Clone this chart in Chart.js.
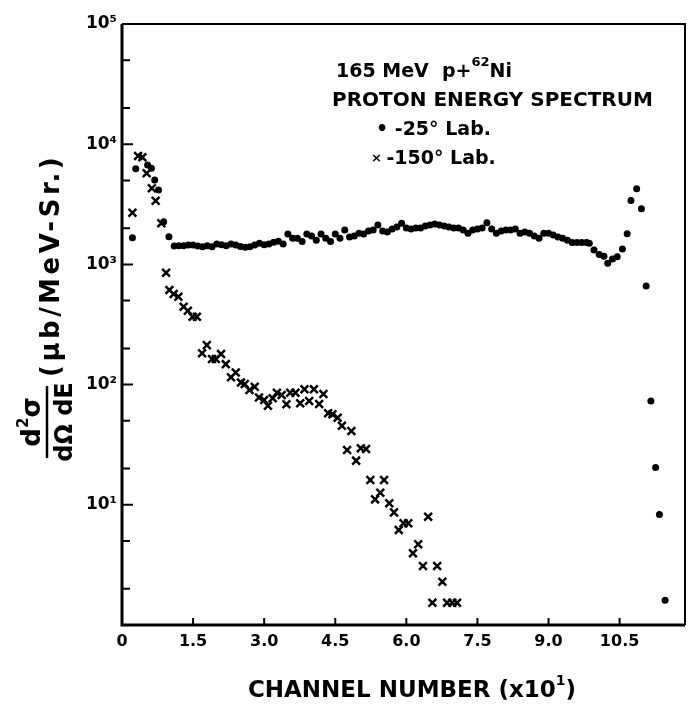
<!DOCTYPE html>
<html>
<head>
<meta charset="utf-8">
<script src="https://cdn.jsdelivr.net/npm/chart.js@4.4.0/dist/chart.umd.min.js"></script>
<style>
  html, body { margin: 0; padding: 0; background: #fff; }
  #wrap { width: 693px; height: 713px; }
</style>
</head>
<body>
<div id="wrap"><canvas id="spectre" width="693" height="713"></canvas></div>
<script>
// 165 MeV p + 62Ni : spectre en énergie des protons (25° et 150° lab.)
const xTicks = [0, 1.5, 3.0, 4.5, 6.0, 7.5, 9.0, 10.5];
const yTicks = [1, 10, 100, 1000, 10000, 100000];
const yMinorTicks = [2, 5, 20, 50, 200, 500, 2000, 5000, 20000, 50000];
const yTickLabels = { 10: '10¹', 100: '10²', 1000: '10³', 10000: '10⁴', 100000: '10⁵' };

// -25° Lab. (points)
const x25 = [
  0.22, 0.29, 0.54, 0.62, 0.69, 0.77, 0.88, 0.99,
  1.1, 1.2, 1.3, 1.4, 1.5, 1.6, 1.7, 1.8, 1.9, 2.0,
  2.1, 2.2, 2.3, 2.4, 2.5, 2.6, 2.7, 2.8, 2.9, 3.0,
  3.1, 3.2, 3.3, 3.4, 3.5, 3.6, 3.7, 3.8, 3.9, 4.0,
  4.1, 4.2, 4.3, 4.4, 4.5, 4.6, 4.7, 4.8, 4.9, 5.0,
  5.1, 5.2, 5.3, 5.4, 5.5, 5.6, 5.7, 5.8, 5.9, 6.0,
  6.1, 6.2, 6.3, 6.4, 6.5, 6.6, 6.7, 6.8, 6.9, 7.0,
  7.1, 7.2, 7.3, 7.4, 7.5, 7.6, 7.7, 7.8, 7.9, 8.0,
  8.1, 8.2, 8.3, 8.4, 8.5, 8.6, 8.7, 8.8, 8.9, 9.0,
  9.1, 9.2, 9.3, 9.4, 9.5, 9.6, 9.7, 9.8, 9.86, 9.96,
  10.07, 10.17, 10.25, 10.35, 10.45, 10.56, 10.66, 10.74, 10.86, 10.96,
  11.06, 11.16, 11.26, 11.34, 11.46
];
const y25 = [
  1670, 6250, 6700, 6300, 5030, 4160, 2265, 1700,
  1420, 1430, 1430, 1450, 1450, 1420, 1400, 1430, 1400, 1480,
  1460, 1430, 1480, 1450, 1410, 1390, 1400, 1450, 1500, 1460,
  1480, 1530, 1560, 1480, 1790, 1650, 1650, 1550, 1790, 1720,
  1590, 1790, 1650, 1550, 1790, 1650, 1930, 1690, 1720, 1820,
  1790, 1900, 1930, 2130, 1900, 1860, 1970, 2050, 2200, 2010,
  1970, 2010, 2010, 2090, 2130, 2170, 2130, 2090, 2050, 2010,
  2010, 1930, 1820, 1930, 1970, 2010, 2220, 1970, 1820, 1900,
  1930, 1930, 1970, 1820, 1860, 1820, 1720, 1650, 1820, 1820,
  1760, 1690, 1650, 1590, 1520, 1520, 1520, 1520, 1500, 1320,
  1210, 1170, 1020, 1110, 1160, 1340, 1800, 3400, 4250, 2900,
  661, 73, 20.4, 8.3, 1.61
];

// -150° Lab. (croix)
const x150 = [
  0.22, 0.34, 0.43, 0.52, 0.63, 0.71, 0.83, 0.93, 1.00, 1.09,
  1.19, 1.30, 1.39, 1.49, 1.58, 1.69, 1.79, 1.90, 1.98, 2.09,
  2.19, 2.30, 2.40, 2.51, 2.59, 2.69, 2.80, 2.89, 3.00, 3.08,
  3.18, 3.27, 3.37, 3.47, 3.55, 3.66, 3.76, 3.85, 3.95, 4.05,
  4.16, 4.25, 4.35, 4.44, 4.55, 4.64, 4.75, 4.84, 4.94, 5.04,
  5.15, 5.24, 5.34, 5.45, 5.53, 5.64, 5.74, 5.84, 5.94, 6.04,
  6.14, 6.25, 6.35, 6.46, 6.55, 6.65, 6.76, 6.86, 6.97, 7.07
];
const y150 = [
  2690, 7980, 7780, 5730, 4300, 3390, 2200, 853, 612, 567,
  538, 445, 412, 367, 367, 182, 213, 163, 163, 180,
  148, 115, 126, 104, 101, 90, 96, 78, 74.5, 66.8,
  76.9, 85.7, 82, 68.6, 85.7, 85.7, 69.9, 91.4, 73, 91.4,
  69, 83.5, 57.7, 56.6, 53, 45.5, 28.6, 41.1, 23.3, 29.5,
  29.1, 16.1, 11.1, 12.6, 16.1, 10.3, 8.65, 6.17, 7.02, 7.02,
  3.95, 4.69, 3.1, 7.96, 1.53, 3.1, 2.29, 1.53, 1.53, 1.53
];

const INK = '#000';
const FONT = '"DejaVu Sans", sans-serif';

// texte en plusieurs morceaux (exposants), mesuré puis posé
function drawRuns(ctx, runs, x, y, align) {
  let total = 0;
  runs.forEach(r => { ctx.font = r.font; r.w = ctx.measureText(r.t).width; total += r.w; });
  let cx = align === 'center' ? x - total / 2 : x;
  runs.forEach(r => {
    ctx.font = r.font;
    ctx.fillText(r.t, cx, y + (r.dy || 0));
    cx += r.w;
  });
}

const cadre = {
  id: 'cadre',
  afterDraw(chart) {
    const { ctx, chartArea: a, scales: { x, y } } = chart;
    ctx.save();
    ctx.strokeStyle = INK;
    ctx.fillStyle = INK;

    ctx.lineWidth = 2;
    ctx.beginPath();
    ctx.moveTo(a.left, a.top); ctx.lineTo(a.right, a.top); ctx.lineTo(a.right, a.bottom);
    ctx.stroke();
    ctx.lineWidth = 3;
    ctx.beginPath();
    ctx.moveTo(a.left, a.top); ctx.lineTo(a.left, a.bottom); ctx.lineTo(a.right, a.bottom);
    ctx.stroke();

    // graduations vers l'intérieur
    ctx.lineWidth = 2;
    ctx.beginPath();
    yTicks.forEach(v => { const p = y.getPixelForValue(v); ctx.moveTo(a.left, p); ctx.lineTo(a.left + 11, p); });
    yMinorTicks.forEach(v => { const p = y.getPixelForValue(v); ctx.moveTo(a.left, p); ctx.lineTo(a.left + 8, p); });
    xTicks.forEach(v => { const p = x.getPixelForValue(v); ctx.moveTo(p, a.bottom); ctx.lineTo(p, a.bottom - 7); });
    ctx.stroke();

    // légende dans le cadre
    ctx.textAlign = 'left';
    ctx.textBaseline = 'alphabetic';
    const b19 = 'bold 19px ' + FONT;
    drawRuns(ctx, [
      { t: '165 MeV  p+', font: b19 },
      { t: '62', font: 'bold 13px ' + FONT, dy: -11 },
      { t: 'Ni', font: b19 }
    ], 336, 77);
    drawRuns(ctx, [{ t: 'PROTON ENERGY SPECTRUM', font: 'bold 20px ' + FONT }], 332, 106);
    drawRuns(ctx, [{ t: '• -25° Lab.', font: b19 }], 376, 135);
    drawRuns(ctx, [
      { t: '× ', font: 'bold 13px ' + FONT, dy: -2 },
      { t: '-150° Lab.', font: b19 }
    ], 371, 164);

    // titre de l'axe x
    drawRuns(ctx, [
      { t: 'CHANNEL NUMBER (x10', font: 'bold 23px ' + FONT },
      { t: '1', font: 'bold 14px ' + FONT, dy: -12 },
      { t: ')', font: 'bold 23px ' + FONT }
    ], 412, 697, 'center');

    // titre de l'axe y : d²σ/dΩdE (μb/MeV-Sr.)
    ctx.translate(47, 422);
    ctx.rotate(-Math.PI / 2);
    drawRuns(ctx, [
      { t: 'd', font: 'bold 26px ' + FONT },
      { t: '2', font: 'bold 15px ' + FONT, dy: -12 },
      { t: 'σ', font: 'bold 26px ' + FONT }
    ], 0, -7, 'center');
    ctx.lineWidth = 2.5;
    ctx.beginPath(); ctx.moveTo(-36, 0); ctx.lineTo(36, 0); ctx.stroke();
    drawRuns(ctx, [{ t: 'dΩ dE', font: 'bold 24px ' + FONT }], 0, 25, 'center');
    ctx.letterSpacing = '3.5px';
    drawRuns(ctx, [{ t: '(μb/MeV-Sr.)', font: 'bold 26px ' + FONT }], 45, 12);
    ctx.restore();
  }
};

new Chart(document.getElementById('spectre'), {
  type: 'scatter',
  data: {
    datasets: [
      {
        label: '-25° Lab.',
        data: x25.map((v, i) => ({ x: v, y: y25[i] })),
        pointStyle: 'circle',
        pointRadius: 3.5,
        backgroundColor: INK,
        borderColor: INK,
        borderWidth: 0
      },
      {
        label: '-150° Lab.',
        data: x150.map((v, i) => ({ x: v, y: y150[i] })),
        pointStyle: 'crossRot',
        pointRadius: 5.5,
        borderColor: INK,
        borderWidth: 2.5
      }
    ]
  },
  options: {
    responsive: false,
    animation: false,
    events: [],
    layout: { padding: { top: 24, right: 5, left: 0, bottom: 0 } },
    plugins: { legend: { display: false }, tooltip: { enabled: false } },
    scales: {
      x: {
        type: 'linear',
        min: 0,
        max: 11.88,
        afterBuildTicks: s => { s.ticks = xTicks.map(v => ({ value: v })); },
        afterFit: s => { s.height = 88; },
        grid: { display: false, drawTicks: false },
        border: { display: false },
        ticks: {
          color: INK,
          padding: 7,
          maxRotation: 0,
          autoSkip: false,
          font: { family: FONT, size: 16, weight: 'bold' },
          callback: v => (v === 0 ? '0' : v.toFixed(1))
        }
      },
      y: {
        type: 'logarithmic',
        min: 1,
        max: 100000,
        afterBuildTicks: s => { s.ticks = yTicks.map(v => ({ value: v })); },
        afterFit: s => { s.width = 122; },
        grid: { display: false, drawTicks: false },
        border: { display: false },
        ticks: {
          color: INK,
          padding: 5,
          autoSkip: false,
          font: { family: FONT, size: 17, weight: 'bold' },
          callback: v => yTickLabels[v] || ''
        }
      }
    }
  },
  plugins: [cadre]
});
</script>
</body>
</html>
